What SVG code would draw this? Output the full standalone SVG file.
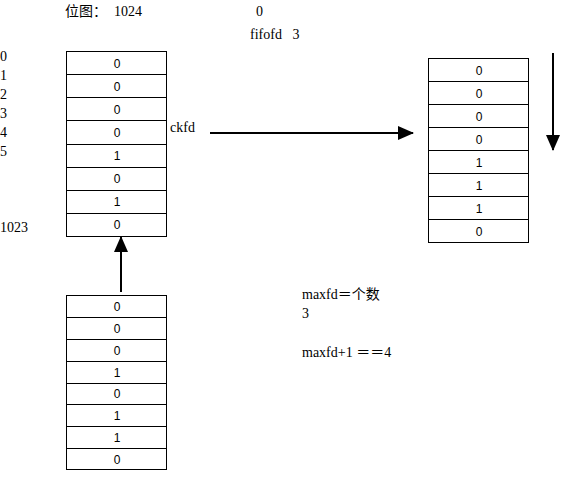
<svg xmlns="http://www.w3.org/2000/svg" width="562" height="480" viewBox="0 0 562 480">
<style>
.t{font-family:"Liberation Serif","Noto Sans CJK SC",serif;font-size:14px;fill:#000;white-space:pre}
.c{font-family:"Liberation Sans",sans-serif;font-size:12px;fill:#000;text-anchor:middle}
.box{fill:#fff;stroke:#000;stroke-width:1}
.ln{stroke:#000;stroke-width:1}
.ar{stroke:#000;stroke-width:2;fill:none}
</style>
<defs>
<marker id="ah" viewBox="0 0 16 14" refX="15" refY="7" markerWidth="16" markerHeight="14" markerUnits="userSpaceOnUse" orient="auto">
<path d="M0,0 L16,7 L0,14 z" fill="#000"/>
</marker>
</defs>
<rect width="562" height="480" fill="#fff"/>
<g id="labels">
<text class="t" x="65" y="16" xml:space="preserve">位图：  1024</text>
<text class="t" x="256" y="16">0</text>
<text class="t" x="250" y="39" xml:space="preserve">fifofd   3</text>
<text class="t" x="0" y="61">0</text>
<text class="t" x="0" y="80">1</text>
<text class="t" x="0" y="99">2</text>
<text class="t" x="0" y="118">3</text>
<text class="t" x="0" y="137">4</text>
<text class="t" x="0" y="156">5</text>
<text class="t" x="0" y="232">1023</text>
<text class="t" x="170" y="132">ckfd</text>
<text class="t" x="302" y="299">maxfd＝个数</text>
<text class="t" x="302" y="318">3</text>
<text class="t" x="302" y="357" xml:space="preserve">maxfd+1 ＝＝4</text>
</g>
<g id="bitmap">
<rect class="box" x="66.5" y="51.5" width="100" height="185"/>
<line class="ln" x1="66" y1="74.5" x2="167" y2="74.5"/>
<line class="ln" x1="66" y1="97.5" x2="167" y2="97.5"/>
<line class="ln" x1="66" y1="120.5" x2="167" y2="120.5"/>
<line class="ln" x1="66" y1="144.5" x2="167" y2="144.5"/>
<line class="ln" x1="66" y1="167.5" x2="167" y2="167.5"/>
<line class="ln" x1="66" y1="190.5" x2="167" y2="190.5"/>
<line class="ln" x1="66" y1="213.5" x2="167" y2="213.5"/>
<text class="c" x="117" y="68">0</text>
<text class="c" x="117" y="91">0</text>
<text class="c" x="117" y="114">0</text>
<text class="c" x="117" y="137">0</text>
<text class="c" x="117" y="160">1</text>
<text class="c" x="117" y="183">0</text>
<text class="c" x="117" y="206">1</text>
<text class="c" x="117" y="229">0</text>
</g>
<g id="result">
<rect class="box" x="428.5" y="58.5" width="100" height="184"/>
<line class="ln" x1="428" y1="81.5" x2="529" y2="81.5"/>
<line class="ln" x1="428" y1="104.5" x2="529" y2="104.5"/>
<line class="ln" x1="428" y1="127.5" x2="529" y2="127.5"/>
<line class="ln" x1="428" y1="150.5" x2="529" y2="150.5"/>
<line class="ln" x1="428" y1="173.5" x2="529" y2="173.5"/>
<line class="ln" x1="428" y1="196.5" x2="529" y2="196.5"/>
<line class="ln" x1="428" y1="219.5" x2="529" y2="219.5"/>
<text class="c" x="479" y="75">0</text>
<text class="c" x="479" y="98">0</text>
<text class="c" x="479" y="121">0</text>
<text class="c" x="479" y="144">0</text>
<text class="c" x="479" y="167">1</text>
<text class="c" x="479" y="190">1</text>
<text class="c" x="479" y="213">1</text>
<text class="c" x="479" y="236">0</text>
</g>
<g id="source">
<rect class="box" x="66.5" y="295.5" width="100" height="174"/>
<line class="ln" x1="66" y1="317.5" x2="167" y2="317.5"/>
<line class="ln" x1="66" y1="339.5" x2="167" y2="339.5"/>
<line class="ln" x1="66" y1="361.5" x2="167" y2="361.5"/>
<line class="ln" x1="66" y1="383.5" x2="167" y2="383.5"/>
<line class="ln" x1="66" y1="404.5" x2="167" y2="404.5"/>
<line class="ln" x1="66" y1="426.5" x2="167" y2="426.5"/>
<line class="ln" x1="66" y1="448.5" x2="167" y2="448.5"/>
<text class="c" x="117" y="311">0</text>
<text class="c" x="117" y="333">0</text>
<text class="c" x="117" y="355">0</text>
<text class="c" x="117" y="377">1</text>
<text class="c" x="117" y="398">0</text>
<text class="c" x="117" y="420">1</text>
<text class="c" x="117" y="442">1</text>
<text class="c" x="117" y="464">0</text>
</g>
<g id="connectors">
<line class="ar" x1="121" y1="292" x2="121" y2="237" marker-end="url(#ah)"/>
<line class="ar" x1="210" y1="133" x2="413" y2="133" marker-end="url(#ah)"/>
<line class="ar" x1="553" y1="53" x2="553" y2="150" marker-end="url(#ah)"/>
</g>
</svg>
